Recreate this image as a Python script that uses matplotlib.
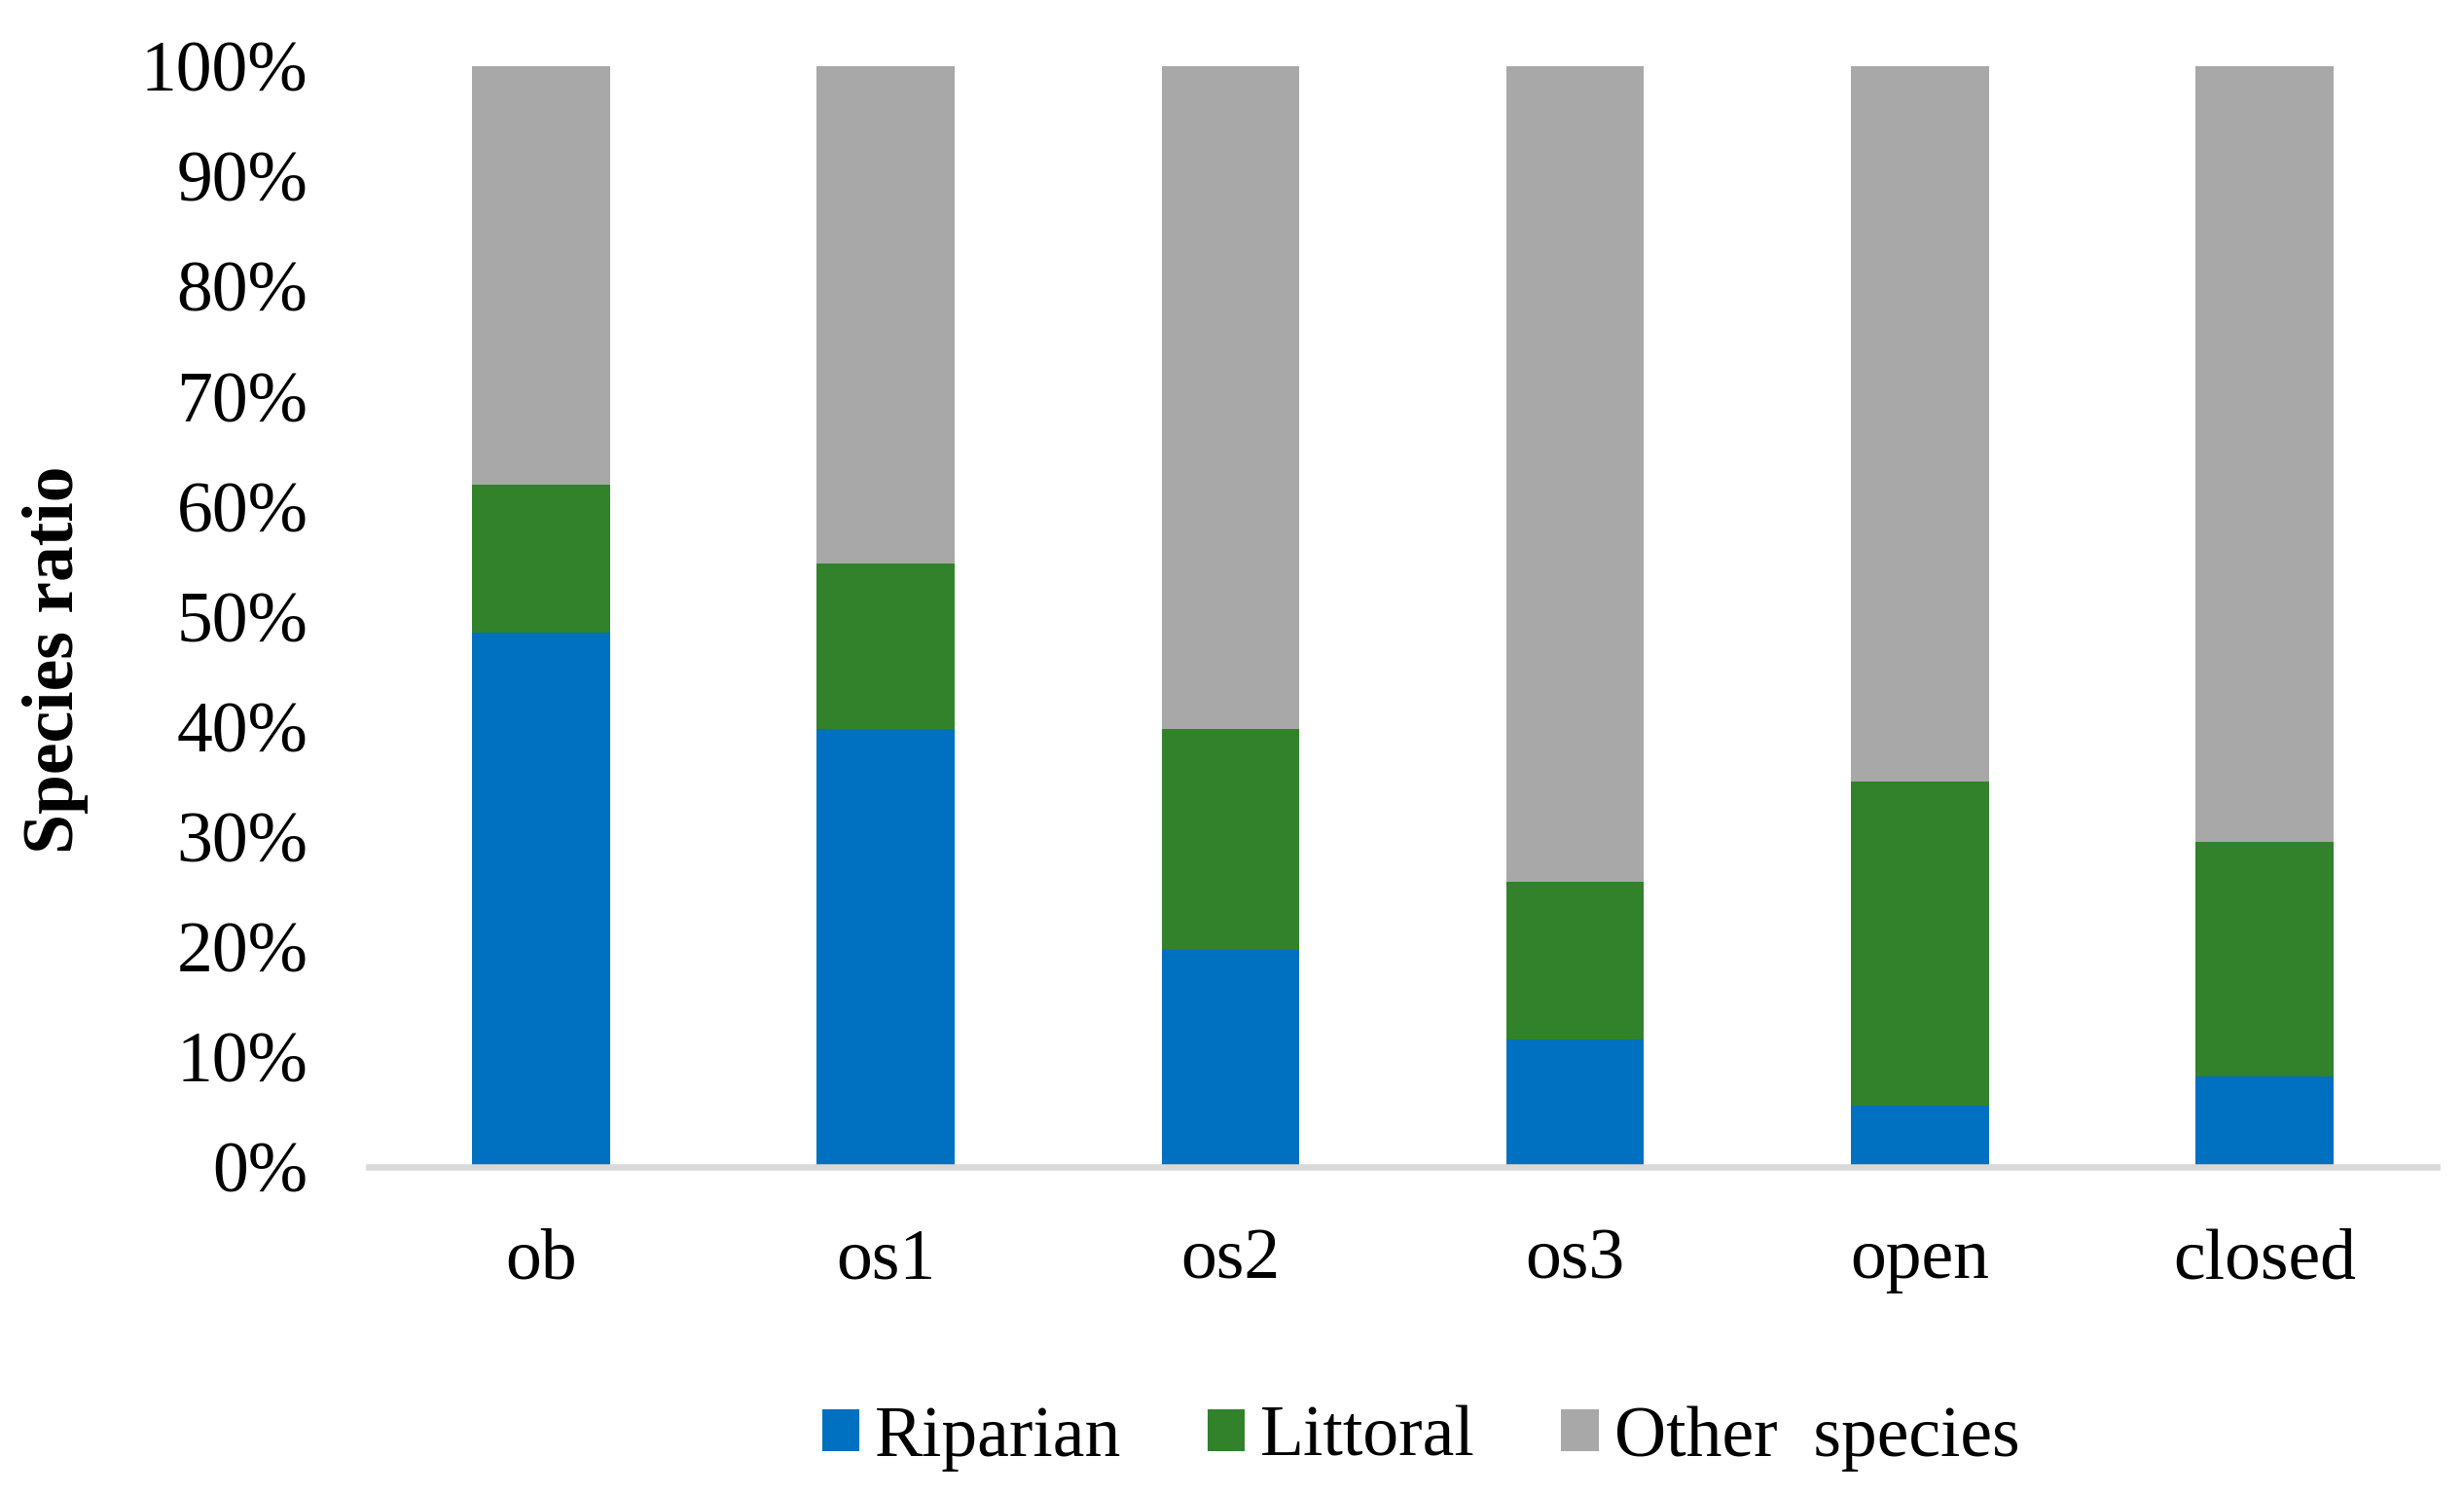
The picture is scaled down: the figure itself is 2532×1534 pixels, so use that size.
import matplotlib
matplotlib.use("Agg")
import matplotlib.pyplot as plt
import numpy as np

# data (fractions of species)
sites = ["ob", "os1", "os2", "os3", "open", "closed"]
riparian = [0.485, 0.398, 0.197, 0.116, 0.056, 0.082]
littoral = [0.135, 0.150, 0.201, 0.143, 0.294, 0.213]
other = [1 - r - l for r, l in zip(riparian, littoral)]

series_names = ["Riparian", "Littoral", "Other  species"]
colors = ["#0070C0", "#31822B", "#A8A8A8"]

plt.rcParams["font.family"] = ["Liberation Serif", "DejaVu Serif"]

fig = plt.figure(figsize=(25.32, 15.34), dpi=100)
ax = fig.add_axes([379 / 2532, 1 - 1199 / 1534, (2504 - 379) / 2532, (1199 - 68) / 1534])

x = np.arange(len(sites))
width = 0.40
bottom = np.zeros(len(sites))
handles = []
for vals, name, col in zip([riparian, littoral, other], series_names, colors):
    h = ax.bar(x, vals, width, bottom=bottom, color=col, label=name, zorder=2)
    handles.append(h)
    bottom += np.array(vals)

ax.set_xlim(-0.5, len(sites) - 0.5)
ax.set_ylim(0, 1.0)
ax.set_yticks(np.arange(0, 1.01, 0.1))
ax.set_yticklabels([f"{int(round(v * 100))}%" for v in np.arange(0, 1.01, 0.1)])
ax.set_xticks(x)
ax.set_xticklabels(sites)
ax.tick_params(axis="both", length=0, labelsize=53)
ax.tick_params(axis="y", pad=45)
ax.tick_params(axis="x", pad=45)

for side in ["top", "right", "left"]:
    ax.spines[side].set_visible(False)
ax.spines["bottom"].set_color("#D9D9D9")
ax.spines["bottom"].set_linewidth(4.7)
ax.spines["bottom"].set_zorder(3)

fig.text(57 / 2532, 1 - 678 / 1534, "Species ratio", rotation=90,
         ha="center", va="center", fontsize=53, fontweight="bold")

fig.legend(handles=handles, labels=series_names, loc="center",
           bbox_to_anchor=(1460 / 2532, 1 - 1478 / 1534), ncol=3, frameon=False,
           fontsize=53, handlelength=0.52, handleheight=0.52,
           handletextpad=0.22, columnspacing=1.2, borderaxespad=0)

fig.savefig("out.png", dpi=100)
